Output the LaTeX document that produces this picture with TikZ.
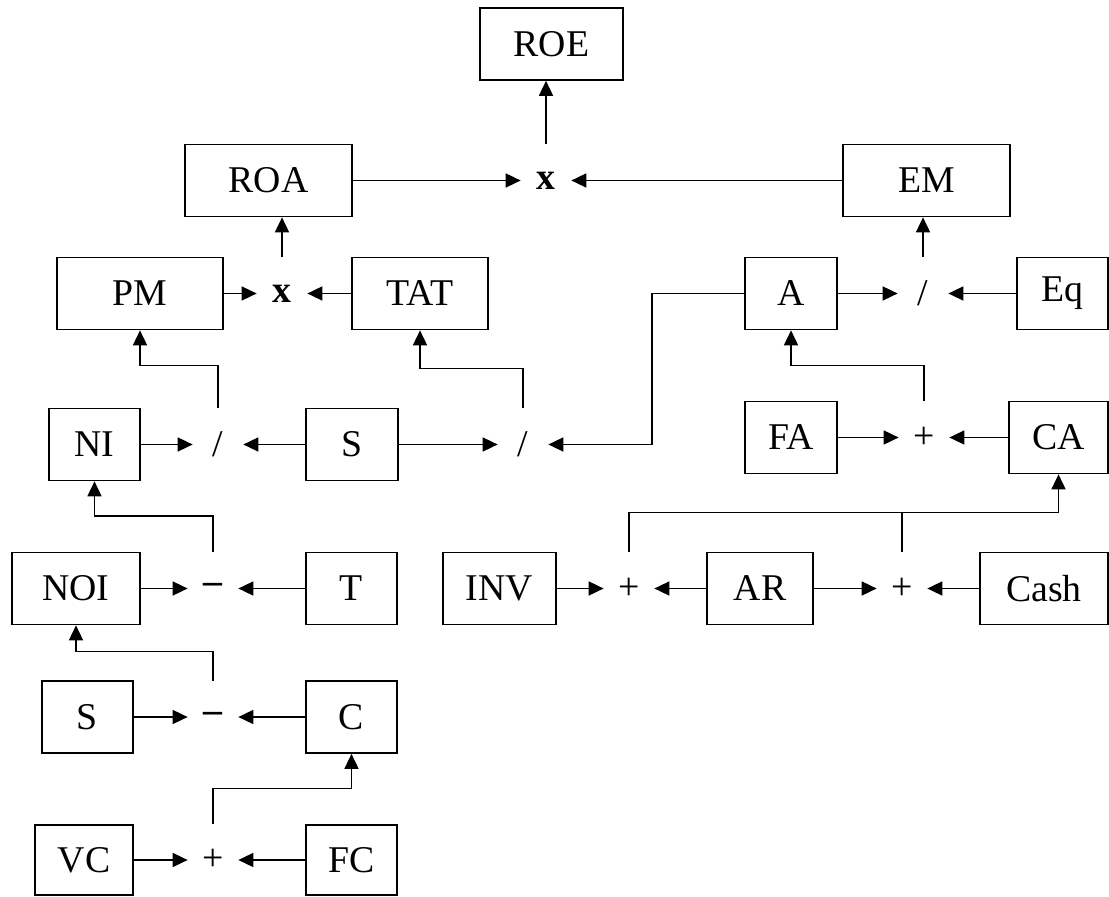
\documentclass[tikz,border=0pt]{standalone}
\usepackage{fontspec}
\setmainfont{Liberation Serif}
\usetikzlibrary{arrows.meta}

\begin{document}
\begin{tikzpicture}[
    box/.style={draw,line width=0.95pt,minimum height=1.44cm,inner sep=0pt,font=\fontsize{21.5}{25}\selectfont},
    op/.style={minimum width=1cm,minimum height=1.44cm,inner sep=0pt,font=\fontsize{21.5}{25}\selectfont},
    link/.style={line width=0.95pt,-{Triangle[length=0.3cm,width=0.28cm]}},
    bus/.style={line width=0.95pt}]
\useasboundingbox (0,0) rectangle (22.18,17.92);

% top of the tree
\node[box,minimum width=2.86cm] (roe) at (11.03,17.04) {ROE};
\node[box,minimum width=3.34cm] (roa) at (5.37,14.31) {ROA};
\node[box,minimum width=3.34cm] (em) at (18.53,14.31) {EM};
\node[op] (mulTop) at (10.92,14.31) {\textbf{x}};

% second row
\node[box,minimum width=3.32cm] (pm) at (2.80,12.05) {PM};
\node[box,minimum width=2.72cm] (tat) at (8.40,12.05) {TAT};
\node[box,minimum width=1.84cm] (ast) at (15.82,12.05) {A};
\node[box,minimum width=1.82cm] (eq) at (21.25,12.05) {Eq};
\node[op] (mulMid) at (5.64,12.05) {\textbf{x}};
\node[op] (divTop) at (18.46,12.05) {/};

% third row
\node[box,minimum width=1.82cm] (ni) at (1.89,9.03) {NI};
\node[box,minimum width=1.84cm] (sal) at (7.04,9.03) {S};
\node[box,minimum width=1.84cm] (fa) at (15.82,9.17) {FA};
\node[box,minimum width=1.98cm] (ca) at (21.17,9.17) {CA};
\node[op] (divNI) at (4.36,9.03) {/};
\node[op] (divS) at (10.46,9.03) {/};
\node[op] (addFA) at (18.48,9.17) {+};

% fourth row
\node[box,minimum width=2.56cm] (noi) at (1.52,6.15) {NOI};
\node[box,minimum width=1.82cm] (tax) at (7.03,6.15) {T};
\node[box,minimum width=2.26cm] (inv) at (9.99,6.15) {INV};
\node[box,minimum width=2.12cm] (ar) at (15.20,6.15) {AR};
\node[box,minimum width=2.56cm] (cash) at (20.88,6.15) {Cash};
\node[op] (subT) at (4.26,6.15) {\textbf{--}};
\node[op] (addINV) at (12.58,6.15) {+};
\node[op] (addAR) at (18.04,6.15) {+};

% costs
\node[box,minimum width=1.82cm] (sal2) at (1.75,3.58) {S};
\node[box,minimum width=1.82cm] (cost) at (7.03,3.58) {C};
\node[op] (subC) at (4.26,3.58) {\textbf{--}};
\node[box,minimum width=1.96cm,minimum height=1.40cm] (vc) at (1.68,0.72) {VC};
\node[box,minimum width=1.82cm,minimum height=1.40cm] (fc) at (7.03,0.72) {FC};
\node[op] (addVC) at (4.26,0.72) {+};

% into the operators
\draw[link] (roa.east) -- (mulTop.west);
\draw[link] (em.west) -- (mulTop.east);
\draw[link] (pm.east) -- (mulMid.west);
\draw[link] (tat.west) -- (mulMid.east);
\draw[link] (ast.east) -- (divTop.west);
\draw[link] (eq.west) -- (divTop.east);
\draw[link] (ni.east) -- (divNI.west);
\draw[link] (sal.west) -- (divNI.east);
\draw[link] (sal.east) -- (divS.west);
\draw[link] (ast.west) -- ++(-1.84,0) |- (divS.east);
\draw[link] (fa.east) -- (addFA.west);
\draw[link] (ca.west) -- (addFA.east);
\draw[link] (noi.east) -- (subT.west);
\draw[link] (tax.west) -- (subT.east);
\draw[link] (inv.east) -- (addINV.west);
\draw[link] (ar.west) -- (addINV.east);
\draw[link] (ar.east) -- (addAR.west);
\draw[link] (cash.west) -- (addAR.east);
\draw[link] (sal2.east) -- (subC.west);
\draw[link] (cost.west) -- (subC.east);
\draw[link] (vc.east) -- (addVC.west);
\draw[link] (fc.west) -- (addVC.east);

% results going up
\draw[link] (mulTop.north) -- (mulTop.north |- roe.south);
\draw[link] (mulMid.north) -- (mulMid.north |- roa.south);
\draw[link] (divTop.north) -- (divTop.north |- em.south);
\draw[link] (divNI.north) -- ++(0,0.85) -| (pm.south);
\draw[link] (divS.north) -- ++(0,0.79) -| (tat.south);
\draw[link] (addFA.north) -- ++(0,0.71) -| (ast.south);
\draw[link] (subT.north) -- ++(0,0.72) -| (ni.south);
\draw[link] (addINV.north) -- ++(0,0.79) -| (ca.south);
\draw[bus] (addAR.north) -- ++(0,0.79);
\draw[link] (subC.north) -- ++(0,0.58) -| (noi.south);
\draw[link] (addVC.north) -- ++(0,0.70) -| (cost.south);
\end{tikzpicture}
\end{document}
